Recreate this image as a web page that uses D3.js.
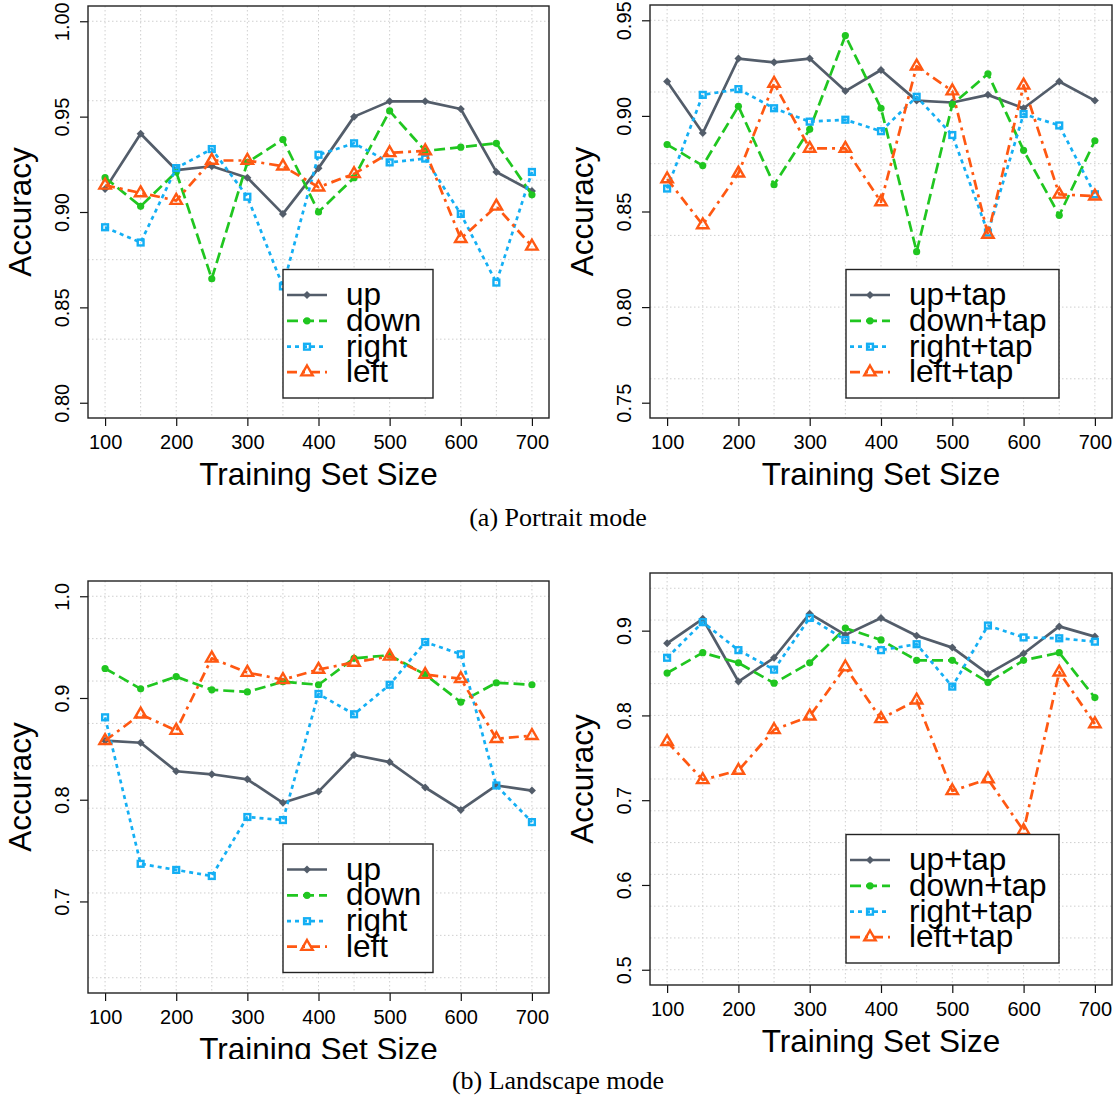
<!DOCTYPE html>
<html>
<head>
<meta charset="utf-8">
<script src="https://cdn.jsdelivr.net/npm/d3@7"></script>
<style>
  body { margin: 0; background: #fff; }
  svg { display: block; }
  text { font-family: "Liberation Sans", Arial, sans-serif; fill: #000; }
  .caption { font-family: "Liberation Serif", "Times New Roman", serif; }
</style>
</head>
<body>
<svg id="fig" width="1119" height="1099"></svg>
<script>
// Training set sizes (x values) and labelled x ticks
const trainingSizes = [100, 150, 200, 250, 300, 350, 400, 450, 500, 550, 600, 650, 700];
const xTickValues = [100, 200, 300, 400, 500, 600, 700];

// Portrait mode, swipe gestures
const portraitUp    = [0.912, 0.941, 0.922, 0.924, 0.918, 0.899, 0.923, 0.950, 0.958, 0.958, 0.954, 0.921, 0.911];
const portraitDown  = [0.918, 0.903, 0.921, 0.865, 0.926, 0.938, 0.900, 0.918, 0.953, 0.932, 0.934, 0.936, 0.909];
const portraitRight = [0.892, 0.884, 0.923, 0.933, 0.908, 0.861, 0.930, 0.936, 0.926, 0.928, 0.899, 0.863, 0.921];
const portraitLeft  = [0.914, 0.910, 0.906, 0.927, 0.927, 0.924, 0.913, 0.920, 0.931, 0.932, 0.886, 0.903, 0.882];

// Portrait mode, swipe + tap
const portraitUpTap    = [0.918, 0.891, 0.930, 0.928, 0.930, 0.913, 0.924, 0.908, 0.907, 0.911, 0.904, 0.918, 0.908];
const portraitDownTap  = [0.885, 0.874, 0.905, 0.864, 0.893, 0.942, 0.904, 0.829, 0.906, 0.922, 0.882, 0.848, 0.887];
const portraitRightTap = [0.862, 0.911, 0.914, 0.904, 0.897, 0.898, 0.892, 0.910, 0.890, 0.839, 0.901, 0.895, 0.859];
const portraitLeftTap  = [0.867, 0.843, 0.870, 0.917, 0.883, 0.883, 0.855, 0.926, 0.913, 0.838, 0.916, 0.859, 0.858];

// Landscape mode, swipe gestures
const landscapeUp    = [0.858, 0.856, 0.828, 0.825, 0.820, 0.797, 0.808, 0.844, 0.837, 0.812, 0.790, 0.814, 0.809];
const landscapeDown  = [0.929, 0.909, 0.921, 0.908, 0.906, 0.916, 0.913, 0.939, 0.942, 0.923, 0.896, 0.915, 0.913];
const landscapeRight = [0.881, 0.737, 0.731, 0.725, 0.783, 0.780, 0.904, 0.884, 0.913, 0.955, 0.943, 0.814, 0.778];
const landscapeLeft  = [0.858, 0.884, 0.868, 0.939, 0.925, 0.918, 0.928, 0.935, 0.941, 0.923, 0.919, 0.860, 0.863];

// Landscape mode, swipe + tap
const landscapeUpTap    = [0.885, 0.914, 0.840, 0.868, 0.920, 0.895, 0.915, 0.894, 0.880, 0.849, 0.873, 0.905, 0.893];
const landscapeDownTap  = [0.850, 0.874, 0.862, 0.838, 0.862, 0.903, 0.889, 0.865, 0.865, 0.839, 0.865, 0.874, 0.821];
const landscapeRightTap = [0.868, 0.910, 0.877, 0.854, 0.915, 0.889, 0.877, 0.884, 0.834, 0.906, 0.892, 0.891, 0.887];
const landscapeLeftTap  = [0.769, 0.724, 0.735, 0.783, 0.799, 0.857, 0.796, 0.818, 0.711, 0.725, 0.664, 0.851, 0.790];

// Legend labels
const gestureNames = ["up", "down", "right", "left"];
const tapGestureNames = ["up+tap", "down+tap", "right+tap", "left+tap"];

// Y tick values per panel
const portraitTicks     = [0.80, 0.85, 0.90, 0.95, 1.00];
const portraitTapTicks  = [0.75, 0.80, 0.85, 0.90, 0.95];
const landscapeTicks    = [0.7, 0.8, 0.9, 1.0];
const landscapeTapTicks = [0.5, 0.6, 0.7, 0.8, 0.9];

// Y limits per panel
const portraitLim     = [0.80, 1.00];
const portraitTapLim  = [0.75, 0.95];
const landscapeLim    = [0.625, 1.00];
const landscapeTapLim = [0.50, 0.95];

const axisTitleX = "Training Set Size";
const axisTitleY = "Accuracy";
const captions = ["(a) Portrait mode", "(b) Landscape mode"];

// ---- styling ----
const seriesStyles = [
  { color: "#535d6a", dash: null,          marker: "diamond" },
  { color: "#20c620", dash: "11,5",        marker: "circle" },
  { color: "#14aff4", dash: "4,4",         marker: "square" },
  { color: "#ff5812", dash: "10,5,3,5",    marker: "triangle" }
];
const LW = 2.7;

// horizontal guide lines: 12 equal steps from the lower limit
function guideLevels(lo, hi) { return d3.range(13).map(i => lo + i * (hi - lo) / 12); }

const panels = [
  { box: { x: 88,  y: 6,   w: 461, h: 412 }, lim: portraitLim, ticks: portraitTicks, fmt: ".2f",
    guides: guideLevels(0.5, 1.0), series: [portraitUp, portraitDown, portraitRight, portraitLeft],
    names: gestureNames, legend: { x: 283, y: 269.5, w: 150 }, clipTitle: false },
  { box: { x: 650, y: 5,   w: 462, h: 413 }, lim: portraitTapLim, ticks: portraitTapTicks, fmt: ".2f",
    guides: guideLevels(0.5, 0.95), series: [portraitUpTap, portraitDownTap, portraitRightTap, portraitLeftTap],
    names: tapGestureNames, legend: { x: 846, y: 269.5, w: 213 }, clipTitle: false },
  { box: { x: 88,  y: 581, w: 461, h: 412 }, lim: landscapeLim, ticks: landscapeTicks, fmt: ".1f",
    guides: guideLevels(0.5, 1.0), series: [landscapeUp, landscapeDown, landscapeRight, landscapeLeft],
    names: gestureNames, legend: { x: 283, y: 844, w: 150 }, clipTitle: true },
  { box: { x: 650, y: 573, w: 462, h: 412 }, lim: landscapeTapLim, ticks: landscapeTapTicks, fmt: ".1f",
    guides: guideLevels(0.5, 0.95), series: [landscapeUpTap, landscapeDownTap, landscapeRightTap, landscapeLeftTap],
    names: tapGestureNames, legend: { x: 846, y: 834.5, w: 213 }, clipTitle: false }
];

const svg = d3.select("#fig");
svg.append("rect").attr("width", 1119).attr("height", 1099).attr("fill", "#fff");

const defs = svg.append("defs");
defs.append("clipPath").attr("id", "bottomCrop")
  .append("rect").attr("x", 0).attr("y", 0).attr("width", 1119).attr("height", 1059);

function extend(lim, frac) {
  const d = (lim[1] - lim[0]) * frac;
  return [lim[0] - d, lim[1] + d];
}

function drawMarker(g, kind, cx, cy, color) {
  if (kind === "diamond") {
    const r = 4.0;
    g.append("path").attr("d", `M${cx},${cy - r}L${cx + r},${cy}L${cx},${cy + r}L${cx - r},${cy}Z`)
      .attr("fill", color);
  } else if (kind === "circle") {
    g.append("circle").attr("cx", cx).attr("cy", cy).attr("r", 3.6).attr("fill", color);
  } else if (kind === "square") {
    const s = 5.8;
    g.append("rect").attr("x", cx - s / 2).attr("y", cy - s / 2).attr("width", s).attr("height", s)
      .attr("fill", "none").attr("stroke", color).attr("stroke-width", 2.4);
  } else if (kind === "triangle") {
    const r = 6.6, xc = r * Math.sqrt(3) / 2;
    g.append("path").attr("d", `M${cx},${cy - r}L${cx + xc},${cy + r / 2}L${cx - xc},${cy + r / 2}Z`)
      .attr("fill", "none").attr("stroke", color).attr("stroke-width", 2.4).attr("stroke-linejoin", "miter");
  }
}

panels.forEach(p => {
  const b = p.box;
  const x = d3.scaleLinear().domain(extend([100, 700], 0.04)).range([b.x, b.x + b.w]);
  const yDom = extend(p.lim, 0.04);
  const y = d3.scaleLinear().domain(yDom).range([b.y + b.h, b.y]);
  const g = svg.append("g");

  // guide grid
  const grid = g.append("g").attr("stroke", "#cfcfcf").attr("stroke-width", 1).attr("stroke-dasharray", "1.5,2.5");
  trainingSizes.forEach(v => {
    grid.append("line").attr("x1", x(v)).attr("x2", x(v)).attr("y1", b.y).attr("y2", b.y + b.h);
  });
  p.guides.filter(v => v >= yDom[0] - 1e-9 && v <= yDom[1] + 1e-9).forEach(v => {
    grid.append("line").attr("x1", b.x).attr("x2", b.x + b.w).attr("y1", y(v)).attr("y2", y(v));
  });

  // axes
  const xAxis = d3.axisBottom(x).tickValues(xTickValues).tickSize(8).tickPadding(5).tickFormat(d3.format("d"));
  const xa = g.append("g").attr("transform", `translate(0,${b.y + b.h})`).call(xAxis);
  xa.select(".domain").remove();
  xa.selectAll("line").attr("stroke", "#111").attr("stroke-width", 1.2);
  xa.selectAll("text").attr("font-size", 20).attr("fill", "#111").attr("dy", null).attr("y", 30.5)
    .style("font-family", '"Liberation Sans", Arial, sans-serif');

  const yAxis = d3.axisLeft(y).tickValues(p.ticks).tickSize(8).tickFormat(d3.format(p.fmt));
  const ya = g.append("g").attr("transform", `translate(${b.x},0)`).call(yAxis);
  ya.select(".domain").remove();
  ya.selectAll("line").attr("stroke", "#111").attr("stroke-width", 1.2);
  ya.selectAll("text")
    .attr("x", null).attr("dy", null)
    .attr("text-anchor", "middle")
    .attr("transform", "translate(-19,0) rotate(-90)")
    .attr("font-size", 20).attr("fill", "#111")
    .style("font-family", '"Liberation Sans", Arial, sans-serif');

  // plot frame
  g.append("rect").attr("x", b.x).attr("y", b.y).attr("width", b.w).attr("height", b.h)
    .attr("fill", "none").attr("stroke", "#222").attr("stroke-width", 1.4);

  // axis titles
  const xt = g.append("text").attr("x", b.x + b.w / 2).attr("y", b.y + b.h + 67)
    .attr("text-anchor", "middle").attr("font-size", 31.5).text(axisTitleX);
  if (p.clipTitle) xt.attr("clip-path", "url(#bottomCrop)");
  g.append("text").attr("transform", `translate(${b.x - 57},${b.y + b.h / 2}) rotate(-90)`)
    .attr("text-anchor", "middle").attr("font-size", 31.5).text(axisTitleY);

  // series
  const line = d3.line().x(d => x(d[0])).y(d => y(d[1]));
  p.series.forEach((vals, i) => {
    const st = seriesStyles[i];
    const pts = trainingSizes.map((t, k) => [t, vals[k]]);
    g.append("path").datum(pts).attr("d", line)
      .attr("fill", "none").attr("stroke", st.color).attr("stroke-width", LW)
      .attr("stroke-linejoin", "round")
      .attr("stroke-linecap", st.dash ? "butt" : "round")
      .attr("stroke-dasharray", st.dash);
    const mg = g.append("g");
    pts.forEach(d => drawMarker(mg, st.marker, x(d[0]), y(d[1]), st.color));
  });

  // legend
  const L = p.legend;
  const lg = g.append("g");
  lg.append("rect").attr("x", L.x).attr("y", L.y).attr("width", L.w).attr("height", 128.5)
    .attr("fill", "#fff").attr("stroke", "#222").attr("stroke-width", 1.4);
  const rows = [25.5, 51.3, 77.2, 102.6];
  p.names.forEach((name, i) => {
    const st = seriesStyles[i];
    const ry = L.y + rows[i];
    lg.append("line").attr("x1", L.x + 4).attr("x2", L.x + 44).attr("y1", ry).attr("y2", ry)
      .attr("stroke", st.color).attr("stroke-width", LW).attr("stroke-dasharray", st.dash);
    drawMarker(lg, st.marker, L.x + 24, ry, st.color);
    lg.append("text").attr("x", L.x + 63).attr("y", ry + 10).attr("font-size", 31.5).text(name);
  });
});

// sub-figure captions
svg.append("text").attr("class", "caption").attr("x", 558).attr("y", 526)
  .attr("text-anchor", "middle").attr("font-size", 26).text(captions[0]);
svg.append("text").attr("class", "caption").attr("x", 558).attr("y", 1089)
  .attr("text-anchor", "middle").attr("font-size", 26).text(captions[1]);
</script>
</body>
</html>
